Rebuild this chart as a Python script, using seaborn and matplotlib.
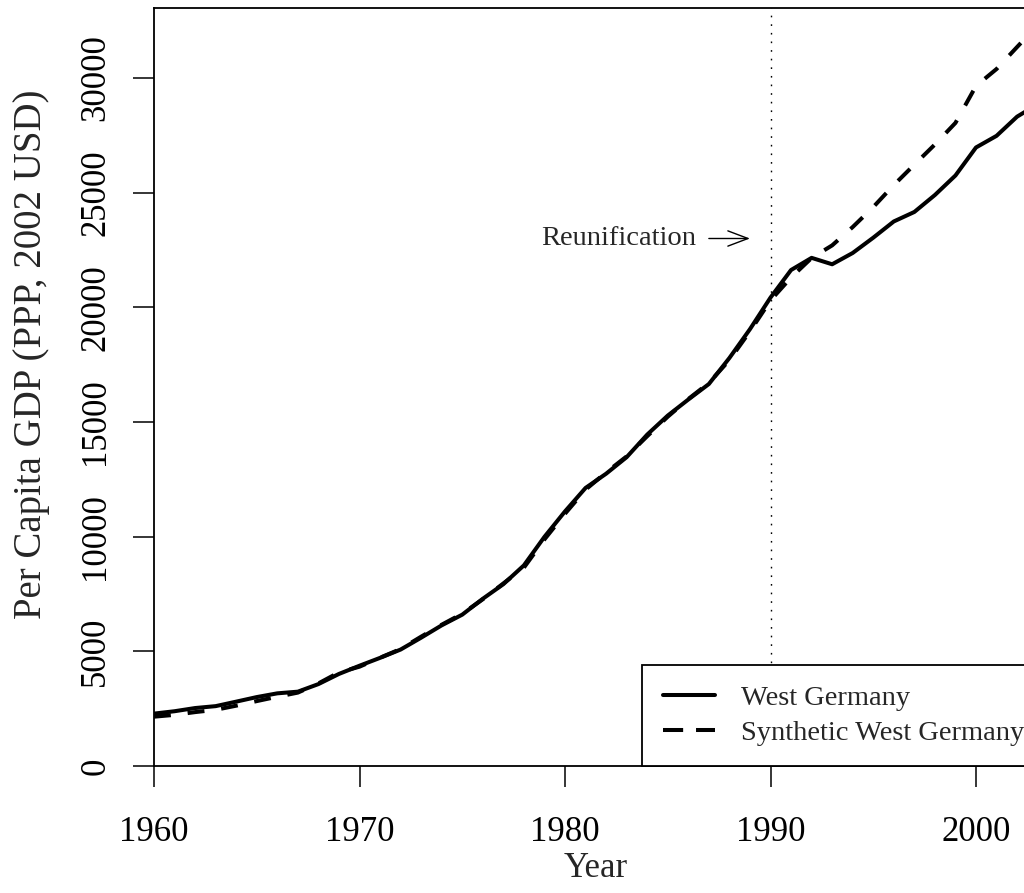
import seaborn as sns
import matplotlib.pyplot as plt
import pandas as pd

# per capita GDP, West Germany vs synthetic control
years = list(range(1960, 2004))
west_germany = [2284, 2388, 2527, 2610, 2806, 3005, 3168, 3241, 3571, 4014,
                4372, 4715, 5077, 5595, 6134, 6599, 7292, 7928, 8748, 9992,
                11101, 12124, 12744, 13466, 14450, 15279, 15979, 16654, 17790, 19046,
                20424, 21626, 22156, 21876, 22369, 23035, 23743, 24157, 24896, 25747,
                26969, 27476, 28313, 28855]
synthetic = [2150, 2230, 2350, 2450, 2630, 2830, 3020, 3200, 3600, 4080,
             4330, 4720, 5100, 5640, 6160, 6640, 7270, 7960, 8650, 9880,
             11000, 12050, 12800, 13500, 14380, 15230, 16000, 16700, 17700, 18950,
             20300, 21300, 22150, 22700, 23500, 24370, 25330, 26220, 27100, 28040,
             29650, 30390, 31350, 32300]
series_names = ["West Germany", "Synthetic West Germany"]
yticks = [0, 5000, 10000, 15000, 20000, 25000, 30000]
xticks = [1960, 1970, 1980, 1990, 2000]
treat_year = 1990
note_text = "Reunification"
note_y = 23000

df = pd.DataFrame({
    "Year": years * 2,
    "gdp": west_germany + synthetic,
    "series": [series_names[0]] * len(years) + [series_names[1]] * len(years),
})

sns.set_style("ticks")
plt.rcParams["font.family"] = ["Liberation Serif", "DejaVu Serif"]

fig = plt.figure(figsize=(10.24, 8.93), dpi=100)
W, H = 1024, 893
ax = fig.add_axes([154 / W, 1 - 766 / H, (W - 154) / W, (766 - 8) / H])

dash = (4.2, 4.2)
sns.lineplot(data=df, x="Year", y="gdp", style="series", color="black",
             dashes={series_names[0]: "", series_names[1]: dash},
             linewidth=2.9, ax=ax, legend=False)

ax.set_xlim(1960, 1960 + (W - 154) / 20.55)
ax.set_ylim(0, 33050)
ax.axvline(treat_year, color="black", linewidth=1.0, dashes=(1.2, 5.0))

ax.text(1982.6, note_y, note_text, ha="center", va="center", fontsize=20.5)
ax.annotate("", xy=(treat_year - 1, note_y), xytext=(treat_year - 3, note_y),
            arrowprops=dict(arrowstyle="->,head_length=1.45,head_width=0.55",
                            mutation_scale=10, color="black", lw=1.0,
                            shrinkA=0, shrinkB=0))

ax.set_xticks(xticks)
ax.set_yticks(yticks)
ax.set_yticklabels([str(v) for v in yticks], rotation=90, va="center")
ax.tick_params(direction="out", length=15, width=1.1, labelsize=25, colors="black")
ax.tick_params(axis="x", pad=21)
ax.tick_params(axis="y", pad=15)
ax.set_xlabel("Year", fontsize=25)
ax.set_ylabel("Per Capita GDP (PPP, 2002 USD)", fontsize=28)
ax.xaxis.set_label_coords((596 - 154) / (W - 154), -(852 - 766) / (766 - 8))
ax.yaxis.set_label_coords(-(154 - 50) / (W - 154), (766 - 354) / (766 - 8))

for side in ["left", "top", "bottom"]:
    ax.spines[side].set_linewidth(1.3)
    ax.spines[side].set_color("black")
ax.spines["right"].set_visible(False)

handles = [plt.Line2D([], [], color="black", lw=2.9),
           plt.Line2D([], [], color="black", lw=2.9, dashes=(5.0, 3.2))]
leg = ax.legend(handles, series_names, loc="lower left",
                bbox_to_anchor=((642 - 154) / (W - 154), 0), borderaxespad=0,
                fontsize=20.5, handlelength=1.86, handletextpad=0.9, labelspacing=0.3,
                borderpad=0.72, fancybox=False, framealpha=1, edgecolor="black")
leg.get_frame().set_linewidth(1.3)

fig.savefig("out.png", dpi=100)
